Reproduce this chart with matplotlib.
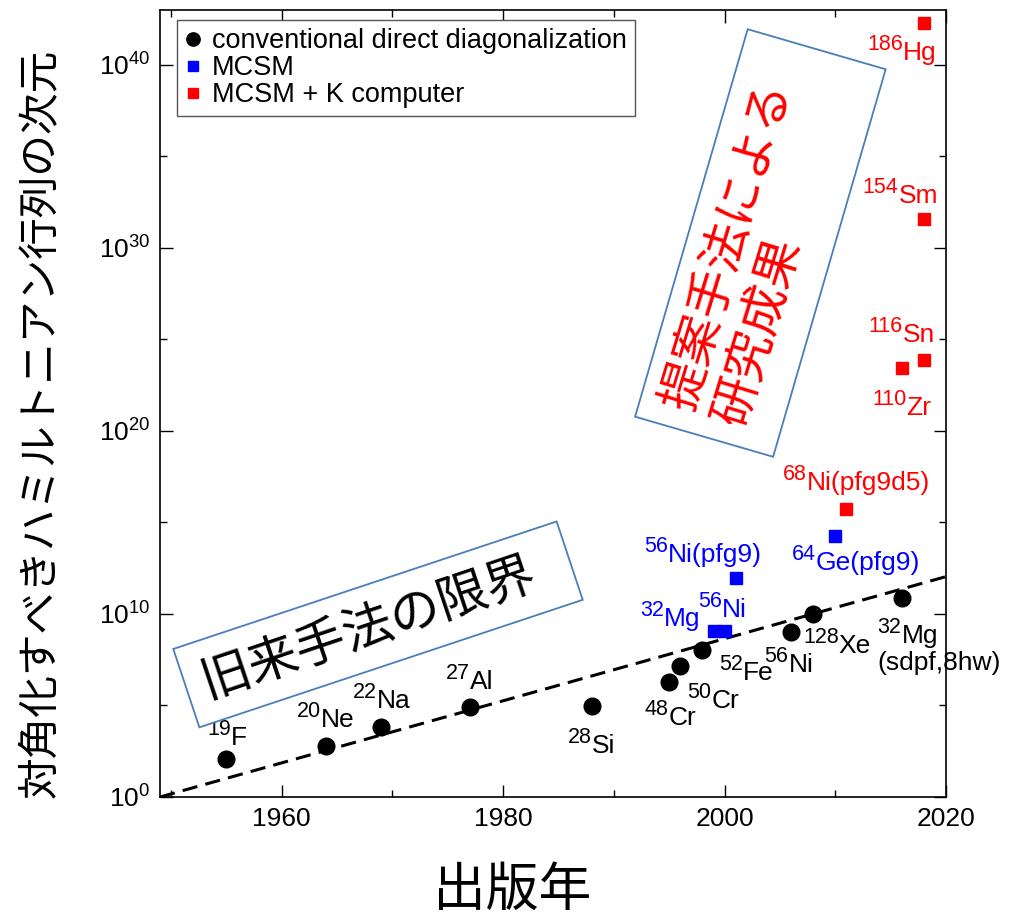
import numpy as np
import matplotlib
matplotlib.use('Agg')
import matplotlib.pyplot as plt
import matplotlib.ticker as ticker
from matplotlib.patches import Polygon

# フォント設定 (欧文 + 日本語)
plt.rcParams['font.family'] = ['Liberation Sans', 'Noto Sans CJK JP']
plt.rcParams['mathtext.fontset'] = 'custom'
plt.rcParams['mathtext.rm'] = 'Liberation Sans'
plt.rcParams['mathtext.it'] = 'Liberation Sans:italic'
plt.rcParams['mathtext.bf'] = 'Liberation Sans:bold'

# 従来の直接対角化
conv_year = [1955, 1964, 1969, 1977, 1988, 1995, 1996, 1998, 2006, 2008, 2016]
conv_dim = [1.2e2, 6.5e2, 6.9e3, 8.5e4, 9.4e4, 1.9e6, 1.5e7, 1.1e8, 1.1e9, 9.5e9, 7.2e10]
conv_mass = [19, 20, 22, 27, 28, 48, 50, 52, 56, 128, 32]
conv_elem = ['F', 'Ne', 'Na', 'Al', 'Si', 'Cr', 'Cr', 'Fe', 'Ni', 'Xe', 'Mg']

# MCSM
mcsm_year = [1999, 2000, 2001, 2010]
mcsm_dim = [1.2e9, 1.2e9, 9.5e11, 1.8e14]
mcsm_mass = [32, 56, 56, 64]
mcsm_elem = ['Mg', 'Ni', 'Ni(pfg9)', 'Ge(pfg9)']

# MCSM + 京コンピュータ
k_year = [2011, 2016, 2018, 2018, 2018]
k_dim = [5.2e15, 2.9e23, 7.6e23, 3.8e31, 1.9e42]
k_mass = [68, 110, 116, 154, 186]
k_elem = ['Ni(pfg9d5)', 'Zr', 'Sn', 'Sm', 'Hg']

# 指数的な伸びの目安線
trend_year = [1949, 2020]
trend_dim = [1e0, 1.1e12]

# ラベル位置 (点からのずれ px, 横揃え)
conv_lab = [(1, 14, 'center'), (0, 19, 'center'), (0, 19, 'center'), (0, 18, 'center'),
            (0, -47, 'center'), (1, -43, 'center'), (7, -42, 'left'), (17, -30, 'left'),
            (-2, -40, 'center'), (-10, -39, 'left'), (-24, -45, 'left')]
mcsm_lab = [(-13, 5, 'right'), (-2, 14, 'center'), (26, 16, 'right'), (21, -34, 'center')]
k_lab = [(10, 19, 'center'), (0, -47, 'center'), (11, 18, 'right'), (14, 16, 'right'),
         (13, -37, 'right')]

W, H = 1021, 922
fig = plt.figure(figsize=(W / 100, H / 100), dpi=100)
ax = fig.add_axes([160 / W, 1 - 797 / H, 786 / W, 787 / H])

# 軸
ax.set_yscale('log')
ax.set_xlim(1949, 2020)
ax.set_ylim(1e0, 1e43)
ax.xaxis.set_major_locator(ticker.FixedLocator([1960, 1980, 2000, 2020]))
ax.xaxis.set_minor_locator(ticker.FixedLocator([1950, 1970, 1990, 2010]))
ax.yaxis.set_major_locator(ticker.FixedLocator([1e0, 1e10, 1e20, 1e30, 1e40]))
ax.yaxis.set_minor_locator(ticker.FixedLocator([1e5, 1e15, 1e25, 1e35]))
ax.yaxis.set_major_formatter(ticker.LogFormatterSciNotation())
ax.yaxis.set_minor_formatter(ticker.NullFormatter())
ax.tick_params(which='both', direction='in', top=True, right=True, width=1, labelsize=19, pad=7)
ax.tick_params(which='major', length=9)
ax.tick_params(which='minor', length=5)
for s in ax.spines.values():
    s.set_linewidth(1.2)

ax.plot(trend_year, trend_dim, color='k', lw=2.2, ls=(0, (5, 2.7)), zorder=2)
ax.plot(conv_year, conv_dim, 'o', color='k', ms=12, ls='none',
        label='conventional direct diagonalization', zorder=3)
ax.plot(mcsm_year, mcsm_dim, 's', color='#0000ff', ms=9, ls='none', label='MCSM', zorder=3)
ax.plot(k_year, k_dim, 's', color='#ff0000', ms=9, ls='none', label='MCSM + K computer', zorder=3)

renderer = fig.canvas.get_renderer()


# 質量数(上付き) + 元素名 を2つのテキストで描く
def put_labels(years, dims, masses, elems, pos, color):
    for x, y, m, e, (dx, dy, ha) in zip(years, dims, masses, elems, pos):
        a1 = ax.annotate(str(m), xy=(x, y), xytext=(0, 0), textcoords='offset pixels',
                         ha='left', va='baseline', fontsize=15.5, color=color,
                         annotation_clip=False)
        a2 = ax.annotate(e, xy=(x, y), xytext=(0, 0), textcoords='offset pixels',
                         ha='left', va='baseline', fontsize=19, color=color,
                         annotation_clip=False)
        w1 = a1.get_window_extent(renderer).width
        w2 = a2.get_window_extent(renderer).width
        left = {'left': dx, 'center': dx - (w1 + w2) / 2, 'right': dx - w1 - w2}[ha]
        a1.xyann = (left, dy + 10)
        a2.xyann = (left + w1, dy)


put_labels(conv_year, conv_dim, conv_mass, conv_elem, conv_lab, 'k')
put_labels(mcsm_year, mcsm_dim, mcsm_mass, mcsm_elem, mcsm_lab, '#0000ff')
put_labels(k_year, k_dim, k_mass, k_elem, k_lab, '#ff0000')
ax.annotate('(sdpf,8hw)', xy=(conv_year[-1], conv_dim[-1]), xytext=(-24, -72),
            textcoords='offset pixels', ha='left', va='baseline', fontsize=19, color='k')

leg = ax.legend(loc='upper left', bbox_to_anchor=(17 / 786, 1 - 10 / 787), borderaxespad=0,
                fontsize=19.5, markerscale=0.8, handlelength=0.6, handletextpad=0.4,
                labelspacing=0.04, borderpad=0.3, fancybox=False, edgecolor='#555555',
                framealpha=1)
leg.get_frame().set_linewidth(1.0)

fig.text(40 / W, 1 - 423 / H, '対角化すべきハミルトニアン行列の次元', rotation=90,
         ha='center', va='center', fontsize=30, family=['Noto Sans CJK JP'])
fig.text(512 / W, 1 - 890 / H, '出版年', ha='center', va='center', fontsize=38,
         family=['Noto Sans CJK JP'])


# 傾いた囲み枠
def rotated_box(cx, cy, w, h, angle):
    t = np.deg2rad(angle)
    c, s = np.cos(t), np.sin(t)
    pts = []
    for px, py in [(-w / 2, -h / 2), (w / 2, -h / 2), (w / 2, h / 2), (-w / 2, h / 2)]:
        x = cx + px * c - py * s
        y = (H - cy) + px * s + py * c
        pts.append((x / W, y / H))
    fig.add_artist(Polygon(pts, closed=True, transform=fig.transFigure, fc='white',
                           ec='#4a7ebb', lw=1.3, zorder=5))


rotated_box(378, 624.4, 404, 82.6, 18.4)
rotated_box(760.4, 243, 403.5, 143.7, 73.8)

fig.text(368 / W, 1 - 627.5 / H, '旧来手法の限界', rotation=18.6, rotation_mode='anchor',
         ha='center', va='center', fontsize=36, family=['Noto Sans CJK JP'], zorder=6)
fig.text(754 / W, 1 - 254 / H, '提案手法による\n研究成果', rotation=73, rotation_mode='anchor',
         ha='center', va='center', multialignment='left', linespacing=1.12, fontsize=35,
         color='#ff0000', family=['Noto Sans CJK JP'], zorder=6)

fig.savefig('out.png', dpi=100)
